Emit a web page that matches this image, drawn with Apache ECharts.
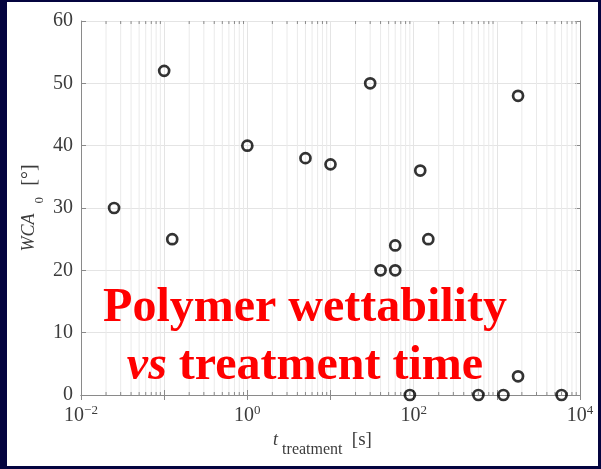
<!DOCTYPE html>
<html><head><meta charset="utf-8">
<script src="https://cdn.jsdelivr.net/npm/echarts@6/dist/echarts.min.js"></script>
<style>
html,body{margin:0;padding:0;background:#04043f;width:601px;height:469px;overflow:hidden;}
#c{position:absolute;left:7px;top:2px;width:591px;height:464px;background:#ffffff;}
</style>
</head><body><div id="c"></div>
<script>
// ---- data ----
const treatmentTime = [0.025, 0.1, 0.125, 1, 5, 10, 30, 40, 60, 60, 120, 150, 90, 600, 1200, 1800, 1800, 6000];
const wca0 = [30, 52, 25, 40, 38, 37, 50, 20, 20, 24, 36, 25, 0, 0, 0, 3, 48, 0];
const xLabelExponents = [-2, 0, 2, 4];
const xMinorMultipliers = [2, 3, 4, 5, 6, 7, 8, 9];
const xDecades = [-2, -1, 0, 1, 2, 3];
const yTicks = [0, 10, 20, 30, 40, 50, 60];
const titleLine1 = 'Polymer wettability';
const titleLine2Italic = 'vs';
const titleLine2Rest = ' treatment time';

const points = treatmentTime.map((t, i) => [t, wca0[i]]);
const minorValues = [];
xDecades.forEach(d => xMinorMultipliers.forEach(m => minorValues.push([m * Math.pow(10, d)])));

const SERIF = '"Liberation Serif", "DejaVu Serif", serif';
const LABEL_COLOR = '#3c3c3c';
const AXIS_COLOR = '#8a8a8a';
const GRID_COLOR = '#e4e4e4';

const chart = echarts.init(document.getElementById('c'), null, {renderer: 'canvas'});

const supMinus = s => String(s).replace('-', '\u2212');

const option = {
  animation: false,
  grid: {left: 74, top: 19, right: 18, bottom: 71, containLabel: false},
  xAxis: [{
    type: 'log', logBase: 10, min: 0.01, max: 10000,
    name: '{t|t}{s|treatment} {n|[s]}',
    nameLocation: 'middle', nameGap: 29,
    nameTextStyle: {
      color: LABEL_COLOR, padding: [0, 16, 0, 0],
      rich: {
        t: {fontFamily: SERIF, fontStyle: 'italic', fontSize: 18, lineHeight: 20, verticalAlign: 'top', color: LABEL_COLOR},
        s: {fontFamily: SERIF, fontSize: 16, lineHeight: 27, verticalAlign: 'bottom', color: LABEL_COLOR, padding: [0, 6, 0, 4]},
        n: {fontFamily: SERIF, fontSize: 19, lineHeight: 20, verticalAlign: 'top', color: LABEL_COLOR}
      }
    },
    axisLine: {show: true, lineStyle: {color: AXIS_COLOR, width: 1}},
    axisTick: {show: true, inside: true, length: 5, lineStyle: {color: AXIS_COLOR}},
    splitLine: {show: true, lineStyle: {color: GRID_COLOR, width: 1}},
    axisLabel: {
      margin: 9,
      formatter: function (v) {
        const e = Math.round(Math.log10(v));
        if (xLabelExponents.indexOf(e) < 0) return '';
        return '{b|10}{p|' + supMinus(e) + '}';
      },
      rich: {
        b: {fontFamily: SERIF, fontSize: 20, lineHeight: 22, verticalAlign: 'bottom', color: LABEL_COLOR},
        p: {fontFamily: SERIF, fontSize: 13, lineHeight: 13, verticalAlign: 'top', color: LABEL_COLOR}
      }
    }
  }, {
    type: 'log', logBase: 10, min: 0.01, max: 10000, position: 'top',
    axisLine: {show: true, lineStyle: {color: AXIS_COLOR, width: 1}},
    axisTick: {show: true, inside: true, length: 5, lineStyle: {color: AXIS_COLOR}},
    axisLabel: {show: false}, splitLine: {show: false}
  }],
  yAxis: [{
    type: 'value', min: yTicks[0], max: yTicks[yTicks.length - 1], interval: 10,
    name: '{w|WCA}{s|0} {n|[\u00b0]}',
    nameLocation: 'middle', nameGap: 35, nameRotate: 90, nameMoveOverlap: false,
    nameTextStyle: {
      color: LABEL_COLOR,
      rich: {
        w: {fontFamily: SERIF, fontStyle: 'italic', fontSize: 18, lineHeight: 20, verticalAlign: 'top', color: LABEL_COLOR},
        s: {fontFamily: SERIF, fontSize: 13, lineHeight: 26, verticalAlign: 'bottom', color: LABEL_COLOR, padding: [0, 8, 0, 10]},
        n: {fontFamily: SERIF, fontSize: 20, lineHeight: 20, verticalAlign: 'top', color: LABEL_COLOR}
      }
    },
    axisLine: {show: true, lineStyle: {color: AXIS_COLOR, width: 1}},
    axisTick: {show: true, inside: true, length: 5, lineStyle: {color: AXIS_COLOR}},
    splitLine: {show: true, lineStyle: {color: GRID_COLOR, width: 1}},
    axisLabel: {fontFamily: SERIF, fontSize: 20, color: LABEL_COLOR, margin: 8}
  }, {
    type: 'value', min: yTicks[0], max: yTicks[yTicks.length - 1], interval: 10, position: 'right',
    axisLine: {show: true, lineStyle: {color: AXIS_COLOR, width: 1}},
    axisTick: {show: true, inside: true, length: 5, lineStyle: {color: AXIS_COLOR}},
    axisLabel: {show: false}, splitLine: {show: false}
  }],
  series: [{
    type: 'custom',
    xAxisIndex: 0, yAxisIndex: 0,
    silent: true, z: 1,
    data: minorValues,
    encode: {x: 0},
    renderItem: function (params, api) {
      const v = api.value(0);
      const yMin = yTicks[0], yMax = yTicks[yTicks.length - 1];
      const b = api.coord([v, yMin]);
      const t = api.coord([v, yMax]);
      return {
        type: 'group',
        children: [
          {type: 'line', shape: {x1: b[0], y1: b[1], x2: t[0], y2: t[1]}, style: {stroke: '#eaeaea', lineWidth: 1}},
          {type: 'line', shape: {x1: b[0], y1: b[1], x2: b[0], y2: b[1] - 3}, style: {stroke: AXIS_COLOR, lineWidth: 1}},
          {type: 'line', shape: {x1: t[0], y1: t[1], x2: t[0], y2: t[1] + 3}, style: {stroke: AXIS_COLOR, lineWidth: 1}}
        ]
      };
    }
  }, {
    type: 'scatter',
    xAxisIndex: 0, yAxisIndex: 0,
    data: points,
    symbol: 'circle', symbolSize: 10, clip: false, z: 5,
    itemStyle: {color: 'rgba(255,255,255,0)', borderColor: '#000000', borderWidth: 2.7}
  }],
  graphic: [{
    type: 'text', z: 100,
    style: {
      text: titleLine1, x: 298, y: 307, align: 'center', verticalAlign: 'middle',
      fontFamily: SERIF, fontWeight: 'bold', fontSize: 48, fill: '#ff0000'
    }
  }, {
    type: 'text', z: 100,
    style: {
      text: '{i|' + titleLine2Italic + '}{r|' + titleLine2Rest + '}', x: 298, y: 365, align: 'center', verticalAlign: 'middle',
      fontFamily: SERIF, fontWeight: 'bold', fontSize: 48, fill: '#ff0000',
      rich: {
        i: {fontFamily: SERIF, fontWeight: 'bold', fontStyle: 'italic', fontSize: 48, fill: '#ff0000'},
        r: {fontFamily: SERIF, fontWeight: 'bold', fontSize: 48, fill: '#ff0000'}
      }
    }
  }]
};
chart.setOption(option);
</script>
</body></html>
